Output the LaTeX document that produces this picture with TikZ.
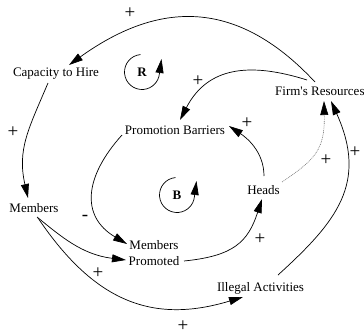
\documentclass[tikz,border=0pt]{standalone}
\usepackage{fontspec}
\setmainfont{Liberation Serif}
% same face without TeX ligatures, so that ' stays a straight apostrophe
\newfontfamily\straightserif{Liberation Serif}
\usetikzlibrary{arrows.meta}
\begin{document}
\begin{tikzpicture}[x=1pt,y=1pt,
  lbl/.style={font=\fontsize{13}{16}\selectfont, inner sep=0pt},
  loopname/.style={font=\fontsize{13}{16}\selectfont\bfseries, inner sep=0pt},
  sgn/.style={font=\fontsize{19}{19}\selectfont, inner sep=0pt},
  tip/.style={-{Triangle[length=14pt,width=8pt,color=black]}},
  link/.style={line width=0.7pt, tip},
  weaklink/.style={line width=0.6pt, draw=black!55, dash pattern=on 0.9pt off 0.9pt, tip},
  loopmark/.style={line width=0.7pt},
]
\useasboundingbox (0,0) rectangle (364,-335);

% variables
\node[lbl,anchor=base]      (cap)   at (56,-76)    {Capacity to Hire};
\node[lbl,anchor=base west] (fr)    at (275,-95)   {\straightserif Firm's Resources};
\node[lbl,anchor=base]      (pb)    at (175,-134)  {Promotion Barriers};
\node[lbl,anchor=base]      (heads) at (263.5,-194) {Heads};
\node[lbl,anchor=base]      (mem)   at (34,-212)   {Members};
\node[lbl,align=center]     (mp)    at (154,-253)  {Members\\Promoted};
\node[lbl,anchor=base]      (il)    at (260.5,-291) {Illegal Activities};

% loop markers
\node[loopname] (rl) at (142,-72)  {R};
\node[loopname] (bl) at (177,-195) {B};
\draw[loopmark, tip] ([shift={(95:17.5)}]rl.center) arc[start angle=95, end angle=355, radius=17.5]
  -- ([shift={(19.5,13)}]rl.center);
\draw[loopmark, tip] ([shift={(95:17.5)}]bl.center) arc[start angle=95, end angle=355, radius=17.5]
  -- ([shift={(19.5,14)}]bl.center);

% causal links
\draw[link] ([shift={(40,13)}]fr.base west) .. controls (233,6) and (154,-4) .. ([shift={(13,11)}]cap.base);
\draw[link] ([shift={(-8,-7)}]cap.base) .. controls (28.5,-129) and (17,-149.5) .. ([shift={(-6,14)}]mem.base);
\draw[link] ([shift={(32,15)}]fr.base west) .. controls (250,-62) and (207.6,-66.6) .. ([shift={(5,14)}]pb.base);
\draw[link] ([shift={(0.5,18)}]heads.base) .. controls (264,-151) and (245.6,-137) .. ([shift={(54,8)}]pb.base);
\draw[weaklink] ([shift={(18.5,12)}]heads.base) .. controls (315,-159.6) and (325,-150) .. ([shift={(49,-6)}]fr.base west);
\draw[link] ([shift={(17.5,16)}]il.base) .. controls (337,-221.4) and (367.9,-182.9) .. ([shift={(56,-6)}]fr.base west);
\draw[link] ([shift={(-53,-1)}]pb.base) .. controls (85,-176) and (79.7,-216) .. ([shift={(-27,9)}]mp.center);
\draw[link] ([shift={(3,-5)}]mem.base) .. controls (60.4,-235.9) and (81.5,-254.6) .. ([shift={(-28,-7)}]mp.center);
\draw[link] ([shift={(4,-6)}]mem.base) .. controls (94,-301) and (151.8,-324.6) .. ([shift={(-17.5,-6)}]il.base);
\draw[link] ([shift={(30,-8)}]mp.center) .. controls (234,-256) and (248,-241.8) .. ([shift={(-1.5,-5)}]heads.base);

% link polarities
\node[sgn] (p1) at (130,-13)  {+};
\node[sgn] (p2) at (13,-132)  {+};
\node[sgn] (p3) at (198,-81)  {+};
\node[sgn] (p4) at (247,-123) {+};
\node[sgn] (p5) at (326,-160) {+};
\node[sgn] (p6) at (355,-152) {+};
\node[sgn] (p7) at (260,-239) {+};
\node[sgn] (p8) at (98,-273)  {+};
\node[sgn] (p9) at (183,-326) {+};
\node[sgn] (m1) at (85,-218)  {-};
\end{tikzpicture}
\end{document}
